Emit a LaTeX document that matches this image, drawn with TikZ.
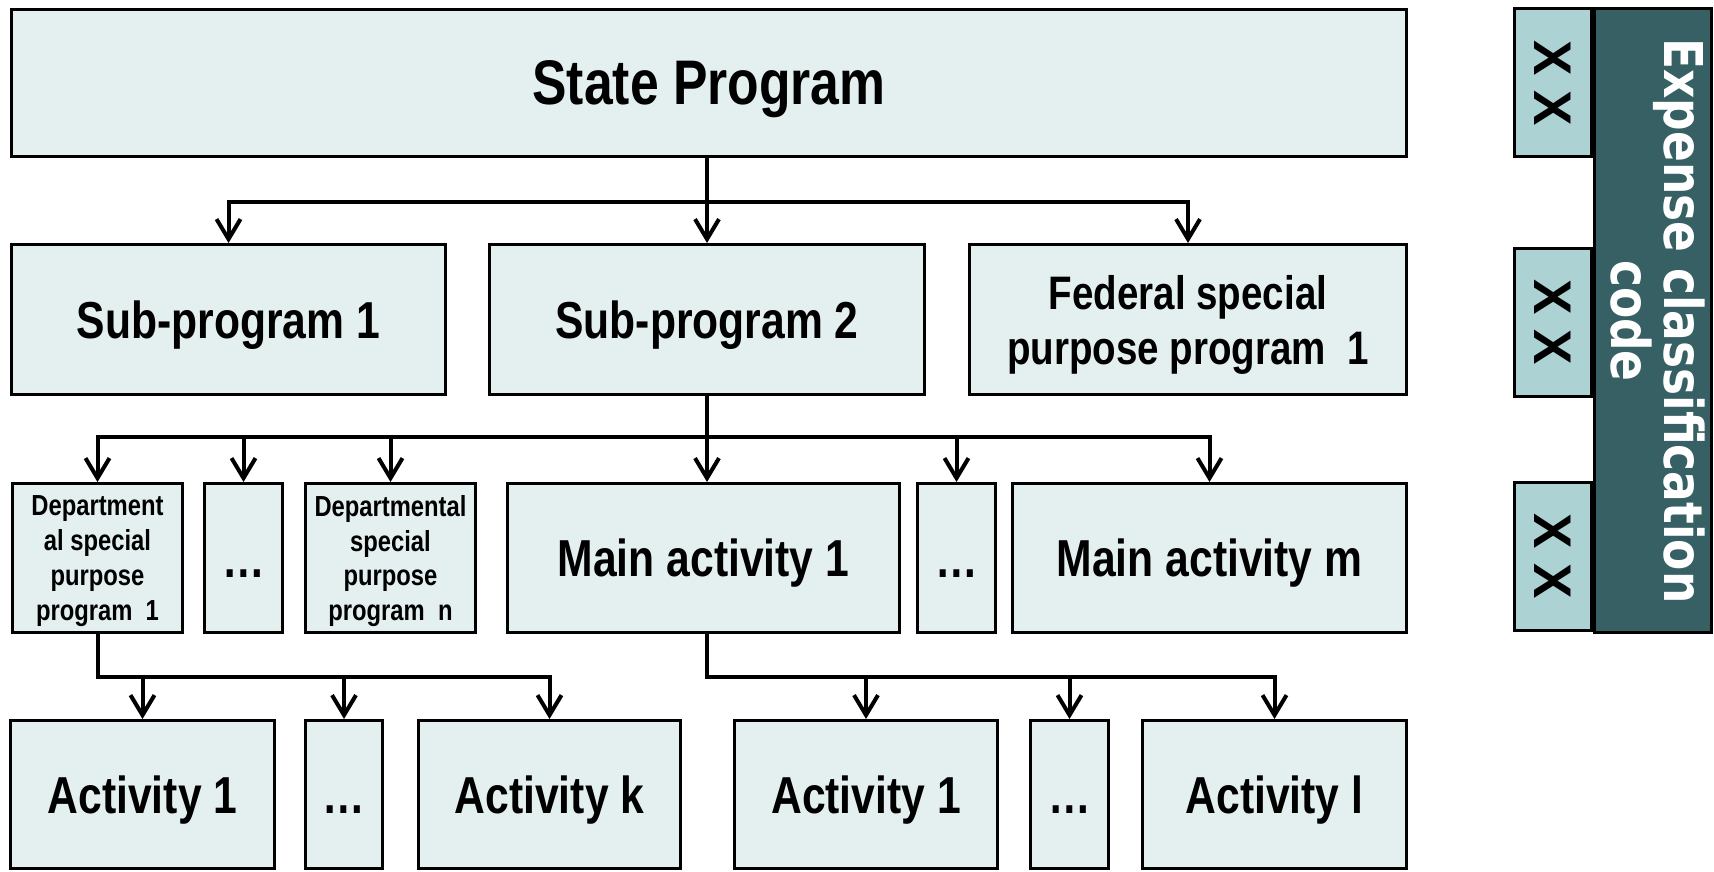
\documentclass[tikz,border=0pt]{standalone}
\usepackage{fontspec}
\usetikzlibrary{arrows.meta}
\newfontfamily\nar{Liberation Sans}[FakeStretch=0.82]
\newfontfamily\tah{DejaVu Sans}[FakeStretch=0.85]
\newfontfamily\arb{Liberation Sans}
\definecolor{lightfill}{HTML}{E4F0F0}
\definecolor{xxfill}{HTML}{ADD2D4}
\definecolor{darkfill}{HTML}{366064}
\newcommand{\fsz}[2]{\fontsize{#1}{#2}\selectfont}
\begin{document}
\begin{tikzpicture}[x=1pt,y=-1pt,
  bx/.style={draw=black, line width=3pt, fill=lightfill, inner sep=0pt, align=center, font=\nar\bfseries, text depth=0pt},
  big/.style={font=\nar\bfseries\fsz{63}{75}},
  med/.style={font=\nar\bfseries\fsz{52}{62}},
  dots/.style={med, text height=38pt},
  fedf/.style={font=\nar\bfseries\fsz{47}{55}},
  small/.style={font=\nar\bfseries\fsz{29}{34.8}},
  ln/.style={draw=black, line width=4pt},
  arr/.style={ln, -{Straight Barb[length=20pt,width=24pt]}},
  arr2/.style={ln, {Straight Barb[length=20pt,width=24pt]}-{Straight Barb[length=20pt,width=24pt]}},
  xxbox/.style={draw=black, line width=3pt, fill=xxfill, minimum width=77pt, minimum height=148pt, inner sep=0pt}
]
\useasboundingbox (0,0) rectangle (1714,872);
% row 1
\node[bx, big, minimum width=1395pt, minimum height=147pt] (sp) at (709,83) {State Program};
% row 2
\node[bx, med, minimum width=434pt, minimum height=150pt] (s1) at (228.5,319.5) {Sub-program 1};
\node[bx, med, minimum width=435pt, minimum height=150pt] (s2) at (707,319.5) {Sub-program 2};
\node[bx, fedf, minimum width=437pt, minimum height=150pt] (fed) at (1188,319.5) {Federal special\\purpose program\ \ 1};
% row 3
\node[bx, small, minimum width=170pt, minimum height=149pt] (d1) at (97.5,558) {Department\\al special\\purpose\\program\ \ 1};
\node[bx, dots, minimum width=78pt, minimum height=149pt] (dt1) at (243.5,558) {\ldots};
\node[bx, small, minimum width=170pt, minimum height=149pt] (dn) at (390.5,558) {Departmental\\special\\purpose\\program\ \ n};
\node[bx, med, minimum width=392pt, minimum height=149pt] (ma1) at (703.5,558) {Main activity 1};
\node[bx, dots, minimum width=78pt, minimum height=149pt] (dt2) at (956.5,558) {\ldots};
\node[bx, med, minimum width=394pt, minimum height=149pt] (mam) at (1209.5,558) {Main activity m};
% row 4
\node[bx, med, minimum width=264pt, minimum height=148pt] (a1) at (142.5,794.5) {Activity 1};
\node[bx, dots, minimum width=77pt, minimum height=148pt] (dt3) at (344,794.5) {\ldots};
\node[bx, med, minimum width=262pt, minimum height=148pt] (ak) at (549.5,794.5) {Activity k};
\node[bx, med, minimum width=263pt, minimum height=148pt] (b1) at (866,794.5) {Activity 1};
\node[bx, dots, minimum width=78pt, minimum height=148pt] (dt4) at (1069.5,794.5) {\ldots};
\node[bx, med, minimum width=264pt, minimum height=148pt] (al) at (1274.5,794.5) {Activity l};
% bus levels
\coordinate (bus1) at (0,202);
\coordinate (bus2) at (0,437);
\coordinate (bus3) at (0,677);
\coordinate (bus4) at (0,677);
% connectors level 1
\draw[arr2] (s1.north) |- (bus1 -| fed.north) -- (fed.north);
\draw[arr] (sp.south -| s2.north) -- (s2.north);
% level 2
\draw[arr2] (d1.north) |- (bus2 -| mam.north) -- (mam.north);
\draw[arr] (s2.south) -- (s2.south |- ma1.north);
\draw[arr] (bus2 -| dt1.north) -- (dt1.north);
\draw[arr] (bus2 -| dn.north) -- (dn.north);
\draw[arr] (bus2 -| dt2.north) -- (dt2.north);
% level 3 left
\draw[arr] (d1.south) |- (bus3 -| ak.north) -- (ak.north);
\draw[arr] (bus3 -| a1.north) -- (a1.north);
\draw[arr] (bus3 -| dt3.north) -- (dt3.north);
% level 3 right
\draw[arr] (s2.south |- ma1.south) |- (bus4 -| al.north) -- (al.north);
\draw[arr] (bus4 -| b1.north) -- (b1.north);
\draw[arr] (bus4 -| dt4.north) -- (dt4.north);
% right panel
\node[draw=black, line width=3pt, fill=darkfill, minimum width=117pt, minimum height=624pt, inner sep=0pt] (panel) at (1653,320.5) {};
\node[xxbox] (xx1) at (1553,83) {};
\node[xxbox] (xx2) at (1553,322) {};
\node[xxbox] (xx3) at (1553,556.5) {};
\node[rotate=-90, font=\arb\bfseries\fsz{53}{60}] (t1) at (xx1.center) {X X};
\node[rotate=-90, font=\arb\bfseries\fsz{53}{60}] (t2) at (xx2.center) {X X};
\node[rotate=-90, font=\arb\bfseries\fsz{53}{60}] (t3) at (xx3.center) {X X};
\node[rotate=-90, text=white, align=center, inner sep=0pt, font=\tah\bfseries\fsz{53.5}{45}] (lab) at (1658,321) {Expense classification\\code};
\end{tikzpicture}
\end{document}
